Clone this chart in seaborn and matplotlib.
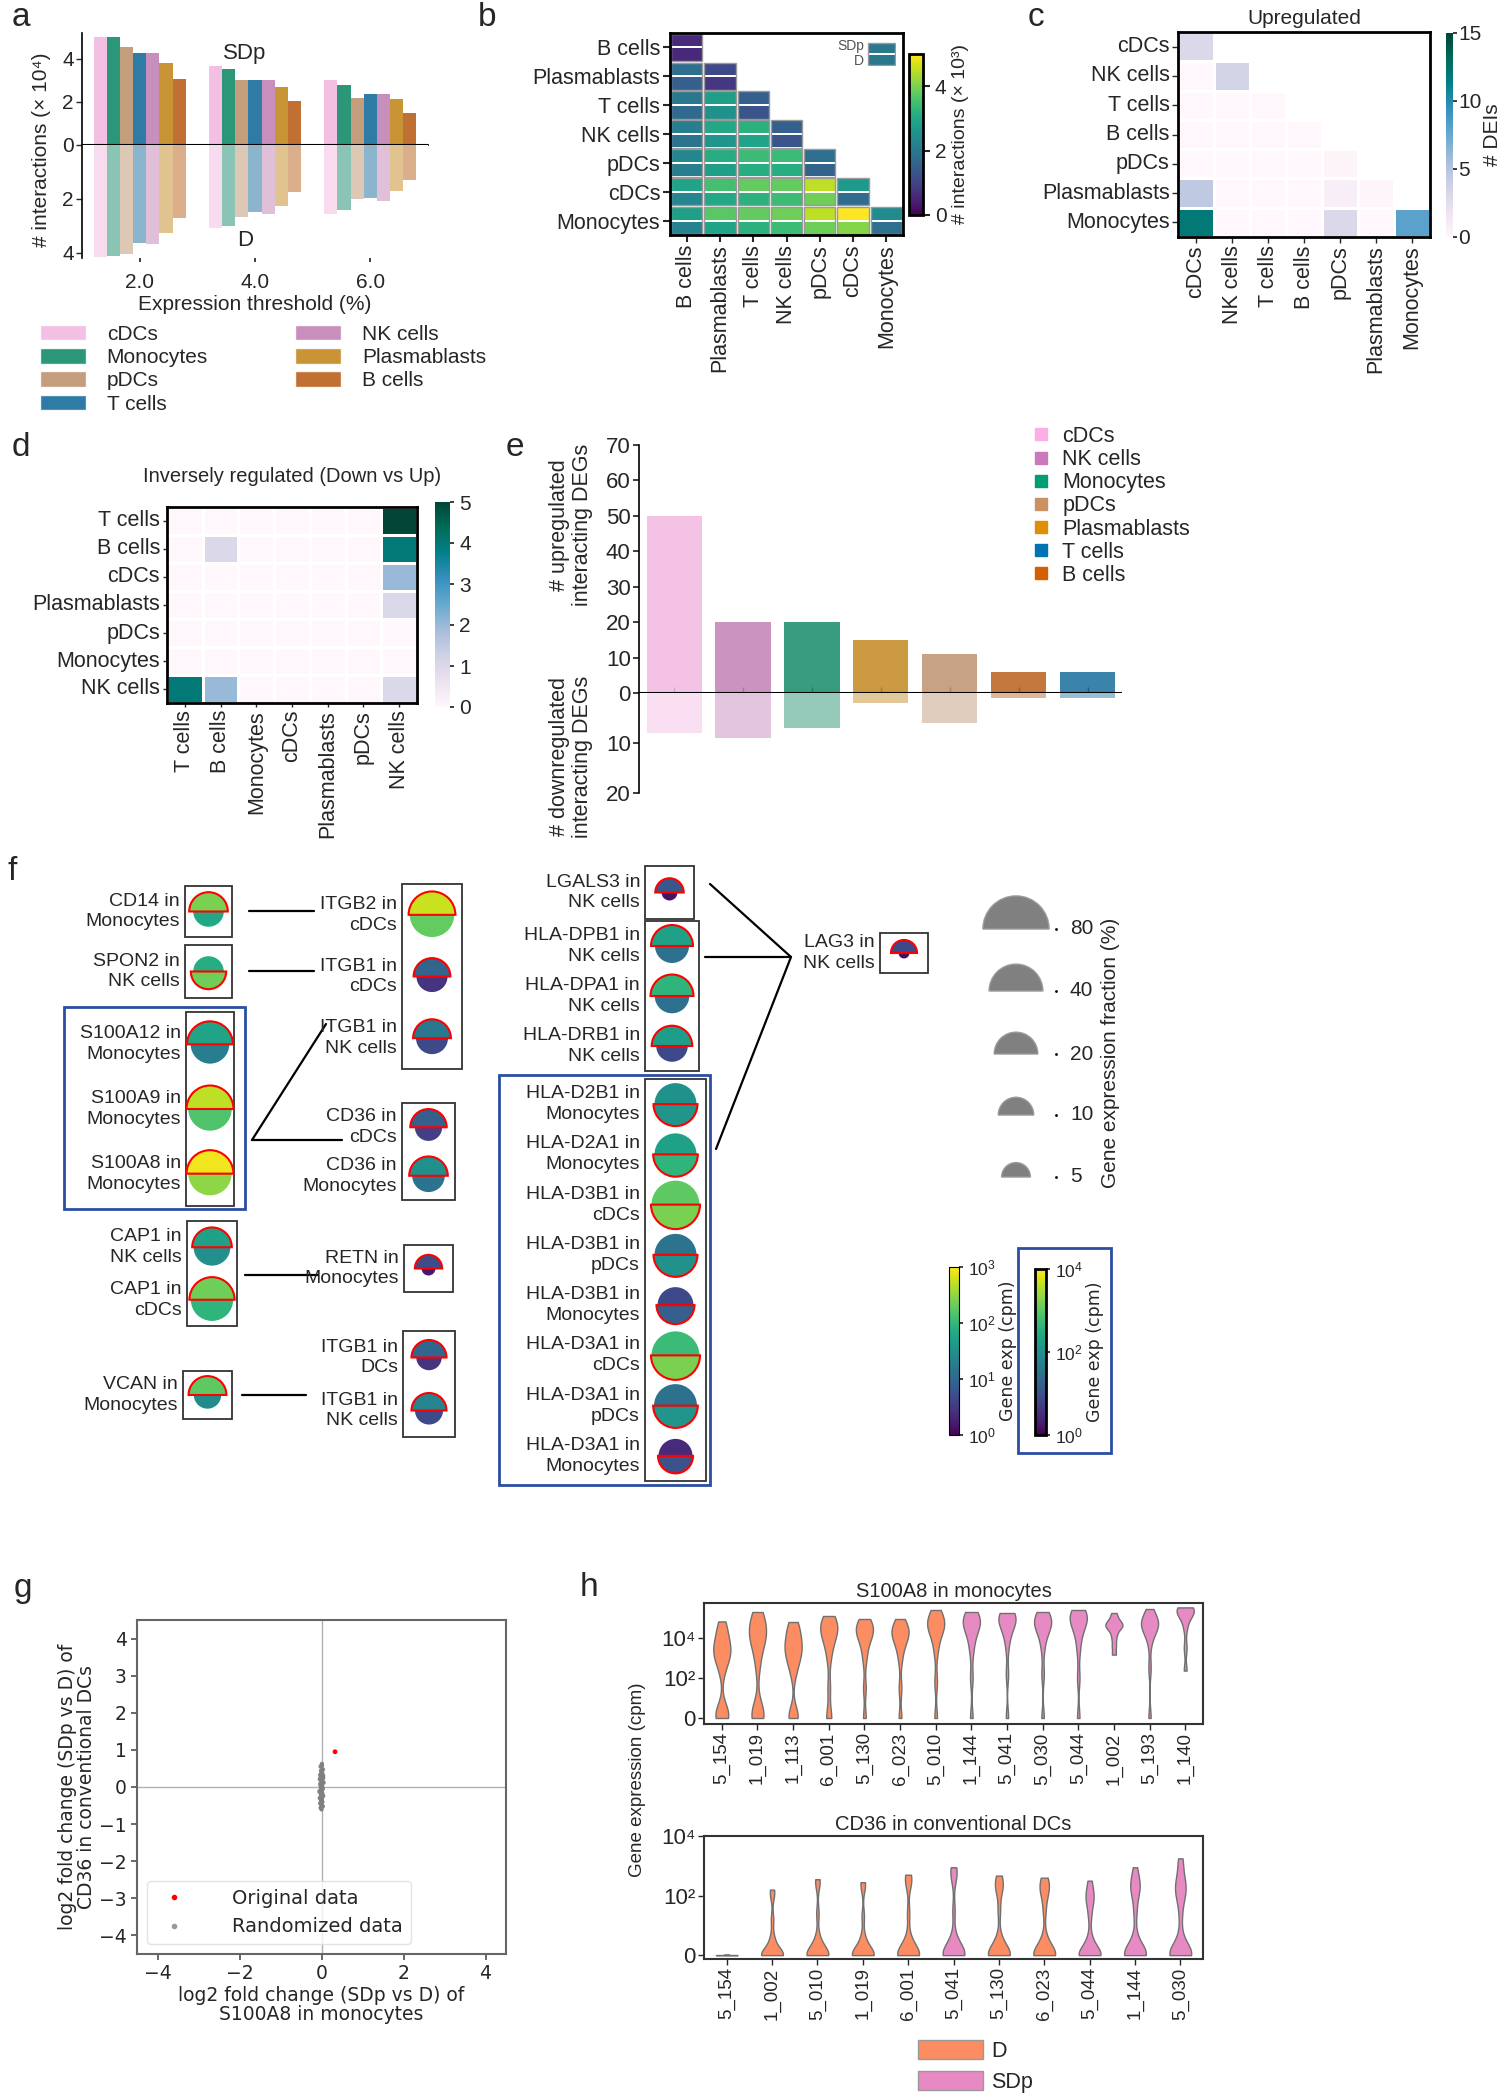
import numpy as np
import pandas as pd
import matplotlib
matplotlib.use("Agg")
import matplotlib.pyplot as plt
import seaborn as sns
from matplotlib.patches import Rectangle, Wedge, Patch
from matplotlib.lines import Line2D
from matplotlib.colors import LogNorm
from matplotlib.cm import ScalarMappable

# ======================= DATA =======================
cell_palette = {'cDCs': '#fbafe4', 'Monocytes': '#029e73', 'pDCs': '#ca9161',
                'T cells': '#0173b2', 'NK cells': '#cc78bc', 'Plasmablasts': '#de8f05',
                'B cells': '#d55e00'}

# panel a
a_cells = ['cDCs', 'Monocytes', 'pDCs', 'T cells', 'NK cells', 'Plasmablasts', 'B cells']
a_thresholds = ['2.0', '4.0', '6.0']
a_sdp = [[5.0, 5.0, 4.56, 4.26, 4.26, 3.80, 3.07],
         [3.68, 3.53, 3.02, 3.02, 3.02, 2.70, 2.05],
         [3.02, 2.80, 2.17, 2.37, 2.35, 2.12, 1.50]]
a_d = [[4.18, 4.12, 4.04, 3.63, 3.69, 3.26, 2.71],
       [3.08, 3.02, 2.67, 2.50, 2.56, 2.28, 1.75],
       [2.56, 2.40, 2.00, 1.96, 2.07, 1.70, 1.29]]

# panel b  (x 10^3 interactions; lower triangle, SDp / D halves)
b_cells = ['B cells', 'Plasmablasts', 'T cells', 'NK cells', 'pDCs', 'cDCs', 'Monocytes']
b_sdp = [[0.6],
         [1.8, 1.1],
         [2.0, 2.8, 1.5],
         [2.1, 3.0, 3.2, 1.5],
         [2.3, 3.1, 3.4, 3.4, 1.8],
         [2.9, 3.5, 3.8, 3.8, 4.5, 2.7],
         [2.8, 3.7, 3.8, 3.9, 4.5, 5.0, 2.4]]
b_d = [[0.55],
       [1.5, 0.8],
       [1.7, 2.5, 1.3],
       [1.9, 2.6, 2.9, 1.3],
       [2.1, 2.8, 3.1, 3.1, 1.55],
       [2.3, 3.0, 3.2, 3.4, 3.9, 1.75],
       [2.2, 2.9, 3.2, 3.4, 3.9, 4.1, 1.8]]
b_legend = [2.0, 2.0]

# panel c (Upregulated DEIs)
c_cells = ['cDCs', 'NK cells', 'T cells', 'B cells', 'pDCs', 'Plasmablasts', 'Monocytes']
c_vals = [[3],
          [0, 3.5],
          [0, 0, 0],
          [0, 0, 0, 0],
          [0, 0, 0, 0, 0.3],
          [4.5, 0, 0, 0, 0.8, 0.2],
          [12, 0, 0, 0, 3, 0, 8]]

# panel d (Inversely regulated)
d_rows = ['T cells', 'B cells', 'cDCs', 'Plasmablasts', 'pDCs', 'Monocytes', 'NK cells']
d_cols = ['T cells', 'B cells', 'Monocytes', 'cDCs', 'Plasmablasts', 'pDCs', 'NK cells']
d_vals = [[0, 0, 0, 0, 0, 0, 5],
          [0, 1, 0, 0, 0, 0, 4],
          [0, 0, 0, 0, 0, 0, 2],
          [0, 0, 0, 0, 0, 0, 1],
          [0, 0, 0, 0, 0, 0, 0],
          [0, 0, 0, 0, 0, 0, 0],
          [4, 2, 0, 0, 0, 0, 1]]

# panel e
e_cells = ['cDCs', 'NK cells', 'Monocytes', 'Plasmablasts', 'pDCs', 'B cells', 'T cells']
e_up = [50, 20, 20, 15, 11, 6, 6]
e_down = [8, 9, 7, 2, 6, 1, 1]
e_legend_order = ['cDCs', 'NK cells', 'Monocytes', 'pDCs', 'Plasmablasts', 'T cells', 'B cells']

# panel f (gene expression fraction %, mean expression cpm)
f_labels = ['CD14 in\nMonocytes', 'SPON2 in\nNK cells', 'S100A12 in\nMonocytes',
            'S100A9 in\nMonocytes', 'S100A8 in\nMonocytes', 'CAP1 in\nNK cells',
            'CAP1 in\ncDCs', 'VCAN in\nMonocytes', 'ITGB2 in\ncDCs', 'ITGB1 in\ncDCs',
            'ITGB1 in\nNK cells', 'CD36 in\ncDCs', 'CD36 in\nMonocytes', 'RETN in\nMonocytes',
            'ITGB1 in\nDCs', 'ITGB1 in\nNK cells', 'LGALS3 in\nNK cells', 'HLA-DPB1 in\nNK cells',
            'HLA-DPA1 in\nNK cells', 'HLA-DRB1 in\nNK cells', 'HLA-D2B1 in\nMonocytes',
            'HLA-D2A1 in\nMonocytes', 'HLA-D3B1 in\ncDCs', 'HLA-D3B1 in\npDCs',
            'HLA-D3B1 in\nMonocytes', 'HLA-D3A1 in\ncDCs', 'HLA-D3A1 in\npDCs',
            'HLA-D3A1 in\nMonocytes', 'LAG3 in\nNK cells']
f_top_frac = [13.3, 6.1, 23.8, 25.6, 25.6, 14.5, 22.5, 12.4, 25.2, 11.3, 12.4, 10.9, 13.3,
              4.2, 9.6, 9.6, 4.8, 17.6, 19.0, 15.7, 17.6, 17.6, 27.4, 17.6, 10.5, 27.4,
              19.0, 8.7, 3.6]
f_bot_frac = [6.1, 9.9, 13.3, 19.6, 19.6, 11.3, 18.1, 4.2, 21.2, 6.5, 7.1, 4.2, 7.6,
              0.45, 3.3, 4.6, 0.7, 8.7, 9.2, 6.8, 20.5, 21.5, 29.4, 20.5, 12.6, 29.4,
              21.5, 9.6, 0.2]
f_top_cpm = [251, 72, 209, 3981, 8318, 51, 219, 178, 575, 9.1, 15.8, 7.9, 31.6, 4.9, 9.8,
             22.4, 6.5, 51, 89, 45, 100, 190, 1000, 33, 7.6, 525, 30, 3.0, 4.6]
f_bot_cpm = [63, 219, 48, 759, 2089, 31.6, 89, 27.5, 190, 2.8, 4.6, 3.5, 13.8, 1.5, 2.8,
             4.6, 1.4, 12.9, 12.9, 4.6, 120, 398, 1585, 100, 15.8, 1585, 120, 10, 1.3]
f_red_half = ['top', 'bottom', 'top', 'top', 'top', 'top', 'top', 'top', 'top', 'top',
              'top', 'top', 'top', 'top', 'top', 'top', 'top', 'top', 'top', 'top',
              'bottom', 'bottom', 'bottom', 'bottom', 'bottom', 'bottom', 'bottom',
              'bottom', 'top']
f_cbar_max = [1e3, 1e3, 1e4, 1e4, 1e4, 1e3, 1e3, 1e3, 1e3, 1e3, 1e3, 1e3, 1e3, 1e3, 1e3,
              1e3, 1e3, 1e3, 1e3, 1e3, 1e4, 1e4, 1e4, 1e4, 1e4, 1e4, 1e4, 1e4, 1e3]
f_size_levels = [80, 40, 20, 10, 5]

# panel g
g_orig_x = [0.33]
g_orig_y = [0.95]
g_rand_x = [0.01, -0.02, 0.03, -0.01, 0.00, 0.02, -0.03, 0.01, -0.02, 0.04, -0.04, 0.00,
            0.02, -0.01, 0.03, -0.03, 0.01, -0.02, 0.00, 0.02, -0.01, 0.03, -0.02, 0.01,
            0.00, -0.03, 0.02, -0.01, 0.04, -0.02, 0.01, 0.00, -0.01, 0.02, -0.03, 0.01,
            0.03, -0.02, 0.00, 0.01, 0.05, -0.05, 0.04, -0.04, 0.02, -0.02]
g_rand_y = [0.62, 0.55, 0.48, 0.44, 0.40, 0.36, 0.33, 0.30, 0.27, 0.24, 0.21, 0.18,
            0.15, 0.13, 0.10, 0.08, 0.05, 0.03, 0.01, -0.01, -0.03, -0.05, -0.08, -0.10,
            -0.13, -0.15, -0.18, -0.21, -0.24, -0.27, -0.30, -0.33, -0.36, -0.40, -0.44,
            -0.48, -0.52, -0.56, -0.60, 0.58, 0.12, -0.12, 0.30, -0.30, 0.45, -0.45]

# panel h  (values are log10(cpm + 1))
h_palette = {'D': '#fc8d62', 'SDp': '#e78ac3'}
h1_samples = ['5_154', '1_019', '1_113', '6_001', '5_130', '6_023', '5_010',
              '1_144', '5_041', '5_030', '5_044', '1_002', '5_193', '1_140']
h1_groups = ['D'] * 7 + ['SDp'] * 7
h1_values = [
    [0, 0, 0, 0.3, 0.6, 2.3, 2.8, 3.0, 3.2, 3.3, 3.5, 3.7, 3.9, 4.2, 4.5, 4.83],
    [0, 0, 0, 0.3, 0.7, 2.5, 3.2, 3.6, 3.9, 4.1, 4.2, 4.4, 4.6, 4.9, 5.1, 5.3],
    [0, 0, 0.3, 2.2, 2.7, 3.0, 3.2, 3.4, 3.6, 3.8, 4.0, 4.3, 4.6, 4.8],
    [0, 0, 1.5, 3.0, 3.6, 3.9, 4.2, 4.4, 4.5, 4.6, 4.7, 4.9, 5.1],
    [0, 1.5, 2.9, 3.5, 3.9, 4.1, 4.3, 4.4, 4.5, 4.6, 4.8, 4.95],
    [0, 1.5, 2.9, 3.5, 3.8, 4.0, 4.2, 4.3, 4.4, 4.5, 4.7, 4.95],
    [0, 1.8, 3.3, 3.9, 4.3, 4.5, 4.6, 4.7, 4.8, 5.0, 5.2, 5.4],
    [0, 2.0, 3.3, 3.9, 4.3, 4.5, 4.7, 4.8, 4.9, 5.0, 5.2, 5.3],
    [0, 2.2, 3.6, 4.2, 4.5, 4.7, 4.9, 5.0, 5.05, 5.1, 5.2, 5.25],
    [0, 2.2, 3.5, 4.1, 4.4, 4.6, 4.7, 4.8, 4.9, 5.0, 5.2, 5.3],
    [0, 2.0, 3.4, 4.1, 4.5, 4.7, 4.9, 5.0, 5.1, 5.2, 5.3, 5.4],
    [3.17, 3.6, 4.0, 4.3, 4.5, 4.6, 4.65, 4.7, 4.8, 5.0, 5.25],
    [0, 2.5, 3.8, 4.3, 4.5, 4.6, 4.7, 4.75, 4.8, 4.9, 5.1, 5.45],
    [2.37, 3.5, 4.5, 5.0, 5.2, 5.3, 5.4, 5.45, 5.5, 5.53]]
h2_samples = ['5_154', '1_002', '5_010', '1_019', '6_001', '5_041', '5_130', '6_023',
              '5_044', '1_144', '5_030']
h2_groups = ['D', 'D', 'D', 'D', 'D', 'SDp', 'D', 'D', 'SDp', 'SDp', 'SDp']
h2_values = [
    [0, 0, 0, 0, 0.01],
    [0, 0, 0, 0, 0, 0, 0, 0, 0.2, 0.4, 0.6, 1.2, 2.0, 2.2],
    [0, 0, 0, 0, 0, 0, 0, 0, 0.2, 0.4, 0.6, 1.4, 2.4, 2.55],
    [0, 0, 0, 0, 0, 0, 0, 0, 0.2, 0.4, 0.6, 1.3, 2.3, 2.45],
    [0, 0, 0, 0, 0, 0, 0, 0, 0.2, 0.4, 0.6, 1.4, 2.4, 2.55, 2.7],
    [0, 0, 0, 0, 0, 0, 0, 0, 0.2, 0.4, 0.6, 1.5, 2.6, 2.8, 2.95],
    [0, 0, 0, 0, 0, 0, 0, 0, 0.2, 0.4, 0.6, 1.5, 2.2, 2.3, 2.45, 2.67],
    [0, 0, 0, 0, 0, 0, 0, 0, 0.2, 0.4, 0.6, 1.5, 2.0, 2.2, 2.3, 2.45, 2.6],
    [0, 0, 0, 0, 0, 0, 0, 0, 0.2, 0.4, 0.6, 1.3, 1.7, 1.9, 2.0, 2.2, 2.5],
    [0, 0, 0, 0, 0, 0, 0, 0, 0.2, 0.4, 0.6, 1.4, 1.9, 2.2, 2.3, 2.4, 2.6, 2.95],
    [0, 0, 0, 0, 0, 0, 0, 0, 0.2, 0.4, 0.6, 1.3, 1.8, 2.0, 2.2, 2.3, 2.4, 2.6, 3.0, 3.25]]

# ======================= FIGURE =======================
sns.set_theme(style="white")
plt.rcParams['font.family'] = ['Liberation Sans', 'DejaVu Sans']
plt.rcParams['axes.unicode_minus'] = True
W, H = 1505, 2100
fig = plt.figure(figsize=(W / 100, H / 100), dpi=100)
fig.patch.set_facecolor('white')


def add_ax(x0, y0, x1, y1):
    return fig.add_axes([x0 / W, 1 - y1 / H, (x1 - x0) / W, (y1 - y0) / H])


def ftext(x, y, s, **kw):
    return fig.text(x / W, 1 - y / H, s, **kw)


ov = fig.add_axes([0, 0, 1, 1])
ov.set_xlim(0, W)
ov.set_ylim(H, 0)
ov.axis('off')

for s, (x, y) in {'a': (12, 18), 'b': (478, 18), 'c': (1028, 18), 'd': (12, 447),
                  'e': (506, 447), 'f': (8, 872), 'g': (14, 1588), 'h': (580, 1588)}.items():
    ftext(x, y, s, fontsize=24, ha='left', va='center')

# ---------------- panel a ----------------
rows = []
for ti, t in enumerate(a_thresholds):
    for ci, c in enumerate(a_cells):
        rows.append({'thr': t, 'cell': c, 'SDp': a_sdp[ti][ci], 'D': a_d[ti][ci]})
dfa = pd.DataFrame(rows)
axa1 = add_ax(82, 33, 428, 145)
axa2 = add_ax(82, 145, 428, 258)
sns.barplot(data=dfa, x='thr', y='SDp', hue='cell', hue_order=a_cells, palette=cell_palette,
            width=0.8, alpha=0.9, errorbar=None, legend=False, ax=axa1, linewidth=0)
sns.barplot(data=dfa, x='thr', y='D', hue='cell', hue_order=a_cells, palette=cell_palette,
            width=0.8, alpha=0.5, errorbar=None, legend=False, ax=axa2, linewidth=0)
for ax in (axa1, axa2):
    ax.set_xlim(-0.5, 2.5)
    for sp in ['top', 'right', 'bottom']:
        ax.spines[sp].set_visible(False)
    ax.spines['left'].set_color('black')
    ax.spines['left'].set_linewidth(1.2)
    ax.set_ylabel('')
    ax.set_xlabel('')
    ax.tick_params(axis='y', left=True, length=4, width=1, labelsize=15, pad=2)
axa1.set_ylim(0, 5.2)
axa1.set_yticks([0, 2, 4])
axa1.tick_params(axis='x', bottom=False, labelbottom=False)
axa1.axhline(0, color='black', lw=1.5, zorder=5, clip_on=False)
axa2.set_ylim(4.2, 0)
axa2.set_yticks([2, 4])
axa2.tick_params(axis='x', bottom=True, length=3, labelsize=15, pad=8)
axa2.set_xlabel('Expression threshold (%)', fontsize=15, labelpad=2)
ftext(42, 150, '# interactions (× 10⁴)', rotation=90, ha='center', va='center', fontsize=15)
ftext(245, 53, 'SDp', ha='center', va='center', fontsize=16)
ftext(245, 240, 'D', ha='center', va='center', fontsize=16)
fig.legend(handles=[Patch(facecolor=sns.desaturate(cell_palette[c], 0.75), alpha=0.9, label=c)
                    for c in a_cells],
           loc='upper left', bbox_to_anchor=(40 / W, 1 - 325 / H), ncol=2, frameon=False,
           fontsize=15, handlelength=2.2, handleheight=0.75, labelspacing=0.2,
           columnspacing=4.2, handletextpad=1.0, borderaxespad=0, borderpad=0)

# ---------------- panel b ----------------
n = len(b_cells)
bmat = np.full((2 * n, n), np.nan)
for i in range(n):
    for j in range(i + 1):
        bmat[2 * i, j] = b_sdp[i][j]
        bmat[2 * i + 1, j] = b_d[i][j]
axb = add_ax(670, 33, 903, 235)
caxb = add_ax(909, 54, 923, 215)
sns.heatmap(bmat, ax=axb, cbar_ax=caxb, cmap='viridis', vmin=0, vmax=5, linewidths=1.2,
            linecolor='white', xticklabels=False, yticklabels=False)
for i in range(n):
    for j in range(i + 1):
        axb.add_patch(Rectangle((j + 0.03, 2 * i + 0.05), 0.94, 1.9, fill=False,
                                ec='#9a9a9a', lw=1))
axb.set_yticks(np.arange(n) * 2 + 1)
axb.set_yticklabels(b_cells, rotation=0, fontsize=15.5)
axb.set_xticks(np.arange(n) + 0.5)
axb.set_xticklabels(b_cells, rotation=90, fontsize=15.5)
axb.tick_params(left=True, bottom=True, length=5, width=1.5, pad=2)
for sp in axb.spines.values():
    sp.set_visible(True)
    sp.set_linewidth(2)
    sp.set_color('black')
cb = axb.collections[0].colorbar
cb.set_ticks([0, 2, 4])
cb.ax.tick_params(labelsize=15, length=5, width=1.5, right=True)
cb.outline.set_linewidth(2)
cb.outline.set_edgecolor('black')
cb.set_label('# interactions (× 10³)', fontsize=14)
axbl = add_ax(867, 42, 896, 66)
sns.heatmap(np.array([[b_legend[0]], [b_legend[1]]]), ax=axbl, cmap='viridis', vmin=0, vmax=5,
            cbar=False, linewidths=1.2, linecolor='white', xticklabels=False, yticklabels=False)
axbl.add_patch(Rectangle((0.03, 0.05), 0.94, 1.9, fill=False, ec='#9a9a9a', lw=1))
ftext(864, 46, 'SDp', ha='right', va='center', fontsize=10, color='#555555')
ftext(864, 61, 'D', ha='right', va='center', fontsize=10, color='#555555')

# ---------------- panel c ----------------
nc = len(c_cells)
cmat = np.full((nc, nc), np.nan)
for i in range(nc):
    for j in range(i + 1):
        cmat[i, j] = c_vals[i][j]
axc = add_ax(1178, 32, 1430, 237)
caxc = add_ax(1446, 33, 1453, 237)
sns.heatmap(cmat, ax=axc, cbar_ax=caxc, cmap='PuBuGn', vmin=0, vmax=15, linewidths=1,
            linecolor='white', xticklabels=c_cells, yticklabels=c_cells)
axc.set_yticklabels(c_cells, rotation=0, fontsize=15.5)
axc.set_xticklabels(c_cells, rotation=90, fontsize=15.5)
axc.tick_params(left=True, bottom=True, length=4, width=1, pad=2)
axc.set_title('Upregulated', fontsize=15, pad=6)
for sp in axc.spines.values():
    sp.set_visible(True)
    sp.set_linewidth(2)
    sp.set_color('black')
cbc = axc.collections[0].colorbar
cbc.set_ticks([0, 5, 10, 15])
cbc.ax.tick_params(labelsize=15, length=3, right=True, pad=1)
cbc.outline.set_linewidth(0)
ftext(1492, 135, '# DEIs', rotation=90, ha='center', va='center', fontsize=15)

# ---------------- panel d ----------------
axd = add_ax(167, 507, 417, 703)
caxd = add_ax(435, 502, 450, 707)
sns.heatmap(np.array(d_vals, dtype=float), ax=axd, cbar_ax=caxd, cmap='PuBuGn', vmin=0, vmax=5,
            linewidths=1, linecolor='white', xticklabels=d_cols, yticklabels=d_rows)
axd.set_yticklabels(d_rows, rotation=0, fontsize=15.5)
axd.set_xticklabels(d_cols, rotation=90, fontsize=15.5)
axd.tick_params(left=True, bottom=True, length=3, width=1, pad=2)
axd.set_title('Inversely regulated (Down vs Up)', fontsize=14.5, pad=18)
for sp in axd.spines.values():
    sp.set_visible(True)
    sp.set_linewidth(2)
    sp.set_color('black')
cbd = axd.collections[0].colorbar
cbd.set_ticks([0, 1, 2, 3, 4, 5])
cbd.ax.tick_params(labelsize=15, length=3, right=True)
cbd.outline.set_linewidth(0)

# ---------------- panel e ----------------
dfe = pd.DataFrame({'cell': e_cells, 'up': e_up, 'down': e_down})
axe1 = add_ax(639, 445, 1122, 693)
axe2 = add_ax(639, 693, 1122, 793)
sns.barplot(data=dfe, x='cell', y='up', hue='cell', palette=cell_palette, width=0.8,
            alpha=0.85, errorbar=None, legend=False, ax=axe1, linewidth=0)
sns.barplot(data=dfe, x='cell', y='down', hue='cell', palette=cell_palette, width=0.8,
            alpha=0.45, errorbar=None, legend=False, ax=axe2, linewidth=0)
for ax in (axe1, axe2):
    ax.set_xlim(-0.51, 6.5)
    for sp in ['top', 'right', 'bottom']:
        ax.spines[sp].set_visible(False)
    ax.spines['left'].set_color('black')
    ax.spines['left'].set_linewidth(1.2)
    ax.set_xlabel('')
    ax.set_ylabel('')
    ax.tick_params(axis='y', left=True, length=4, labelsize=16, pad=2)
axe1.set_ylim(0, 70)
axe1.set_yticks(range(0, 71, 10))
axe1.axhline(0, color='black', lw=1.5, zorder=5)
axe1.tick_params(axis='x', bottom=True, direction='in', length=4, width=1, labelbottom=False)
axe2.set_ylim(20, 0)
axe2.set_yticks([10, 20])
axe2.tick_params(axis='x', bottom=False, labelbottom=False)
ftext(571, 525, '# upregulated\ninteracting DEGs', rotation=90, ha='center', va='center',
      fontsize=15.5, linespacing=1.1)
ftext(571, 757, '# downregulated\ninteracting DEGs', rotation=90, ha='center', va='center',
      fontsize=15.5, linespacing=1.1)
fig.legend(handles=[Line2D([], [], marker='s', ls='none', color=cell_palette[c], markersize=8,
                           label=c) for c in e_legend_order],
           loc='upper left', bbox_to_anchor=(1030 / W, 1 - 426 / H), frameon=False,
           fontsize=15.5, labelspacing=0.1, handletextpad=0.5, handlelength=1,
           borderpad=0, borderaxespad=0)

# ---------------- panel f ----------------
blue = '#2b4ea2'
groups = [
    ((185, 886, 232, 937), [0]),
    ((185, 945, 232, 998), [1]),
    ((186, 1012, 234, 1206), [2, 3, 4]),
    ((187, 1221, 237, 1326), [5, 6]),
    ((183, 1371, 232, 1419), [7]),
    ((402, 884, 462, 1069), [8, 9, 10]),
    ((402, 1103, 455, 1200), [11, 12]),
    ((404, 1245, 453, 1292), [13]),
    ((403, 1331, 455, 1437), [14, 15]),
    ((645, 866, 694, 919), [16]),
    ((645, 921, 699, 1071), [17, 18, 19]),
    ((645, 1079, 706, 1481), [20, 21, 22, 23, 24, 25, 26, 27]),
    ((880, 933, 928, 973), [28]),
]
blue_boxes = [(64, 1007, 245, 1209), (499, 1075, 710, 1485)]
f_lines = [((249, 911), (314, 911)), ((249, 971), (314, 971)),
           ((252, 1140), (326, 1024)), ((252, 1140), (342, 1140)),
           ((245, 1275), (318, 1275)), ((242, 1395), (306, 1395)),
           ((710, 884), (791, 957)), ((705, 957), (791, 957)), ((716, 1149), (791, 957))]


def frac_to_r(f):
    return 14.4 * (f / 5.0) ** 0.3


vir = plt.get_cmap('viridis')
for (x0, y0, x1, y1), items in groups:
    ov.add_patch(Rectangle((x0, y0), x1 - x0, y1 - y0, fill=False, ec='#333333', lw=1.3))
    hh = (y1 - y0) / len(items)
    cx = (x0 + x1) / 2
    for k, idx in enumerate(items):
        cy = y0 + (k + 0.5) * hh
        norm = LogNorm(1, f_cbar_max[idx])
        top = Wedge((cx, cy), frac_to_r(f_top_frac[idx]), 180, 360,
                    facecolor=vir(norm(f_top_cpm[idx])), edgecolor='none')
        bot = Wedge((cx, cy), frac_to_r(f_bot_frac[idx]), 0, 180,
                    facecolor=vir(norm(f_bot_cpm[idx])), edgecolor='none')
        if f_red_half[idx] == 'top':
            top.set_edgecolor('red'); top.set_linewidth(1.5); top.set_zorder(3)
            bot.set_zorder(2)
        else:
            bot.set_edgecolor('red'); bot.set_linewidth(1.5); bot.set_zorder(3)
            top.set_zorder(2)
        ov.add_patch(top)
        ov.add_patch(bot)
        ov.text(x0 - 5, cy, f_labels[idx], ha='right', va='center', fontsize=14,
                linespacing=1.3)
for (x0, y0, x1, y1) in blue_boxes:
    ov.add_patch(Rectangle((x0, y0), x1 - x0, y1 - y0, fill=False, ec=blue, lw=2))
for (p, q) in f_lines:
    ov.plot([p[0], q[0]], [p[1], q[1]], color='black', lw=1.6)

size_base_y = [929, 991, 1054, 1115, 1177]
for lvl, by in zip(f_size_levels, size_base_y):
    ov.add_patch(Wedge((1016, by), frac_to_r(lvl), 180, 360, facecolor='#808080',
                       edgecolor='#9a9a9a', lw=1))
    ov.plot([1056], [by], marker='.', ms=2, color='black')
    ov.text(1070, by, str(lvl), ha='left', va='center', fontsize=15)
ftext(1110, 1053, 'Gene expression fraction (%)', rotation=90, ha='center', va='center',
      fontsize=15)

cax1 = add_ax(949, 1267, 959, 1435)
cbf1 = fig.colorbar(ScalarMappable(norm=LogNorm(1, 1e3), cmap='viridis'), cax=cax1)
cax2 = add_ax(1035, 1269, 1046, 1435)
cbf2 = fig.colorbar(ScalarMappable(norm=LogNorm(1, 1e4), cmap='viridis'), cax=cax2)
for cbx, lw in ((cbf1, 0.8), (cbf2, 2)):
    cbx.ax.minorticks_off()
    cbx.ax.tick_params(labelsize=12.5, length=3, right=True)
    cbx.outline.set_linewidth(lw)
    cbx.outline.set_edgecolor('black')
    cbx.set_label('Gene exp (cpm)', fontsize=12.5, family='DejaVu Sans', labelpad=2)
ov.add_patch(Rectangle((1018, 1248), 93, 205, fill=False, ec=blue, lw=2))

# ---------------- panel g ----------------
axg = add_ax(137, 1620, 506, 1954)
axg.axhline(0, color='#b0b0b0', lw=1, zorder=0)
axg.axvline(0, color='#b0b0b0', lw=1, zorder=0)
sns.scatterplot(x=g_rand_x, y=g_rand_y, color='#808080', s=10, edgecolor='none', ax=axg,
                zorder=2)
sns.scatterplot(x=g_orig_x, y=g_orig_y, color='red', s=12, edgecolor='none', ax=axg, zorder=3)
axg.set_xlim(-4.5, 4.5)
axg.set_ylim(-4.5, 4.5)
axg.set_xticks([-4, -2, 0, 2, 4])
axg.set_yticks(range(-4, 5))
axg.tick_params(left=True, bottom=True, length=4, labelsize=13.5, color='#555555')
for lab in axg.get_xticklabels() + axg.get_yticklabels():
    lab.set_fontfamily('DejaVu Sans')
for sp in axg.spines.values():
    sp.set_color('#666666')
    sp.set_linewidth(1.5)
axg.set_xlabel('log2 fold change (SDp vs D) of\nS100A8 in monocytes', fontsize=13.5,
               family='DejaVu Sans', linespacing=1.0, labelpad=2)
axg.set_ylabel('log2 fold change (SDp vs D) of\nCD36 in conventional DCs', fontsize=13.5,
               family='DejaVu Sans', linespacing=1.0, labelpad=2)
axg.legend(handles=[Line2D([], [], marker='o', ls='none', color='red', markersize=3,
                           label='Original data'),
                    Line2D([], [], marker='o', ls='none', color='#999999', markersize=3,
                           label='Randomized data')],
           loc='lower left', prop={'family': 'DejaVu Sans', 'size': 14}, handletextpad=2.0,
           frameon=True, edgecolor='#dddddd', borderaxespad=0.5)

# ---------------- panel h ----------------
def violin_df(samples, groups_, values):
    rr = []
    for s_, g_, vals in zip(samples, groups_, values):
        for v in vals:
            rr.append({'sample': s_, 'group': g_, 'val': v})
    return pd.DataFrame(rr)


dfh1 = violin_df(h1_samples, h1_groups, h1_values)
dfh2 = violin_df(h2_samples, h2_groups, h2_values)
axh1 = add_ax(704, 1603, 1203, 1724)
axh2 = add_ax(704, 1836, 1203, 1959)
for ax, dfh, order in ((axh1, dfh1, h1_samples), (axh2, dfh2, h2_samples)):
    sns.violinplot(data=dfh, x='sample', y='val', hue='group', order=order,
                   hue_order=['D', 'SDp'], palette=h_palette, dodge=False, cut=0, inner=None,
                   density_norm='width', width=0.48, bw_adjust=0.5, linewidth=1,
                   linecolor='#707070', saturation=1, legend=False, ax=ax)
    ax.set_xlabel('')
    ax.set_ylabel('')
    ax.set_yticks([0, 2, 4])
    ax.set_yticklabels(['0', '10²', '10⁴'], fontsize=16)
    ax.set_xticks(range(len(order)))
    ax.set_xticklabels(order, rotation=90, fontsize=13.5)
    ax.tick_params(left=True, bottom=True, length=4, width=1, pad=2)
    for sp in ax.spines.values():
        sp.set_color('#333333')
        sp.set_linewidth(1.5)
axh1.set_ylim(-0.3, 5.75)
axh2.set_ylim(-0.13, 4.0)
axh1.set_title('S100A8 in monocytes', fontsize=14.5, pad=4)
axh2.set_title('CD36 in conventional DCs', fontsize=14.5, pad=4)
ftext(638, 1780, 'Gene expression (cpm)', rotation=90, ha='center', va='center', fontsize=13.5)
fig.legend(handles=[Patch(facecolor=h_palette['D'], edgecolor='#999999', label='D'),
                    Patch(facecolor=h_palette['SDp'], edgecolor='#999999', label='SDp')],
           loc='upper left', bbox_to_anchor=(918 / W, 1 - 2040 / H), frameon=False, fontsize=15.5,
           handlelength=3.0, handleheight=1.0, labelspacing=0.4, handletextpad=0.4,
           borderpad=0, borderaxespad=0)

fig.savefig('out.png', dpi=100, facecolor='white')
